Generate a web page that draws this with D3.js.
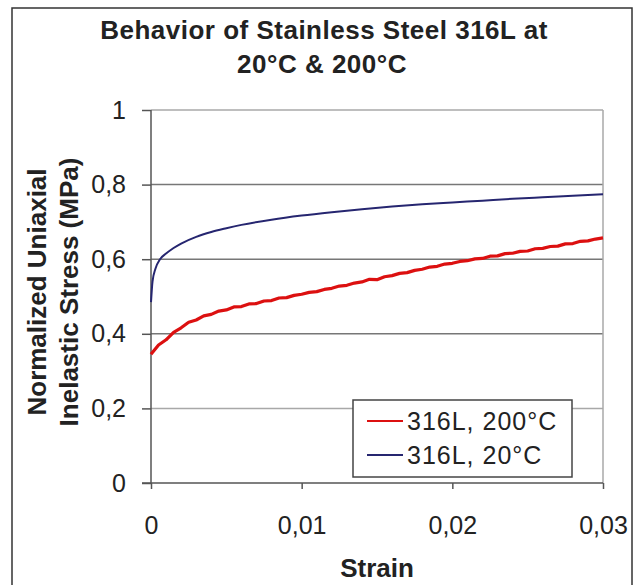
<!DOCTYPE html>
<html>
<head>
<meta charset="utf-8">
<script src="https://cdn.jsdelivr.net/npm/d3@7"></script>
<style>
  body { margin: 0; background: #fff; }
  text { font-family: "Liberation Sans", Arial, sans-serif; fill: #222; }
</style>
</head>
<body>
<script>
// strain / normalized stress
const strain20 = [0, 0.0001, 0.0003, 0.0006, 0.001, 0.0015, 0.002, 0.003, 0.004, 0.005, 0.006,
  0.008, 0.010, 0.012, 0.014, 0.016, 0.018, 0.020, 0.022, 0.024, 0.026, 0.028, 0.030]
const stress20 = [0.485, 0.54, 0.575, 0.600, 0.615, 0.630, 0.642, 0.660, 0.673, 0.683, 0.692,
  0.706, 0.717, 0.726, 0.734, 0.741, 0.747, 0.752, 0.757, 0.762, 0.766, 0.770, 0.774]

const strain200 = [0, 0.0005, 0.001, 0.0015, 0.002, 0.0025, 0.003, 0.0035, 0.004, 0.0045, 0.005,
  0.0055, 0.006, 0.0065, 0.007, 0.0075, 0.008, 0.0085, 0.009, 0.0095, 0.010,
  0.0105, 0.011, 0.0115, 0.012, 0.0125, 0.013, 0.0135, 0.014, 0.0145, 0.015,
  0.0155, 0.016, 0.0165, 0.017, 0.0175, 0.018, 0.0185, 0.019, 0.0195, 0.020,
  0.0205, 0.021, 0.0215, 0.022, 0.0225, 0.023, 0.0235, 0.024, 0.0245, 0.025,
  0.0255, 0.026, 0.0265, 0.027, 0.0275, 0.028, 0.0285, 0.029, 0.0295, 0.030]
const stress200 = [0.345, 0.370, 0.384, 0.404, 0.416, 0.431, 0.437, 0.448, 0.452, 0.461, 0.464,
  0.472, 0.473, 0.480, 0.481, 0.488, 0.489, 0.496, 0.497, 0.503, 0.506,
  0.511, 0.513, 0.519, 0.522, 0.528, 0.530, 0.536, 0.539, 0.546, 0.545,
  0.553, 0.556, 0.562, 0.564, 0.570, 0.573, 0.579, 0.581, 0.587, 0.589,
  0.594, 0.596, 0.601, 0.602, 0.608, 0.609, 0.615, 0.616, 0.621, 0.622,
  0.628, 0.629, 0.634, 0.635, 0.641, 0.642, 0.648, 0.649, 0.654, 0.657]

const xTicks = [0, 0.01, 0.02, 0.03]
const yTicks = [0, 0.2, 0.4, 0.6, 0.8, 1]
const seriesNames = ['316L, 200°C', '316L, 20°C']
const seriesColors = ['#dc1010', '#262670']

const m = { width: 638, height: 585 }
const plot = { left: 151, right: 603, top: 110, bottom: 483 }

const svg = d3.select('body').append('svg')
  .attr('width', m.width)
  .attr('height', m.height)

// outer frame
svg.append('rect')
  .attr('x', 12).attr('y', 8)
  .attr('width', 620).attr('height', 600)
  .attr('fill', 'none')
  .attr('stroke', '#333')
  .attr('stroke-width', 1.5)

const x = d3.scaleLinear().domain([0, 0.03]).range([plot.left, plot.right])
const y = d3.scaleLinear().domain([0, 1]).range([plot.bottom, plot.top])

const fmt = d => d3.format('')(d).replace('.', ',')

// grid lines
svg.append('g').selectAll('line')
  .data(yTicks.slice(1))
  .enter()
  .append('line')
    .attr('x1', plot.left).attr('x2', plot.right)
    .attr('y1', d => y(d)).attr('y2', d => y(d))
    .attr('stroke', d => d === 1 || d === 0.2 ? '#a8a8a8' : '#777')
    .attr('stroke-width', 1.5)

// right border of plot area
svg.append('line')
  .attr('x1', plot.right).attr('x2', plot.right)
  .attr('y1', plot.top).attr('y2', plot.bottom)
  .attr('stroke', '#a8a8a8')
  .attr('stroke-width', 1.5)

const yAxis = svg.append('g')
  .attr('transform', `translate(${plot.left},0)`)
  .call(d3.axisLeft(y).tickValues(yTicks).tickFormat(fmt).tickSize(9).tickPadding(16))
const xAxis = svg.append('g')
  .attr('transform', `translate(0,${plot.bottom})`)
  .call(d3.axisBottom(x).tickValues(xTicks).tickFormat(fmt).tickSize(6).tickPadding(27))

svg.selectAll('.domain').attr('stroke', '#555').attr('stroke-width', 1.5)
svg.selectAll('.tick line').attr('stroke', '#555').attr('stroke-width', 1.5)
svg.selectAll('.tick text').attr('font-size', 25).attr('fill', '#333')
  .style('font-family', '"Liberation Sans", Arial, sans-serif')
// remove the little outer ticks of the domain path
yAxis.select('.domain').attr('d', `M0,${plot.top}V${plot.bottom}`)
xAxis.select('.domain').attr('d', `M${plot.left - 9},0H${plot.right}`)

const line = d3.line().x(d => x(d[0])).y(d => y(d[1]))

svg.append('path')
  .datum(d3.zip(strain200, stress200))
  .attr('d', line)
  .attr('fill', 'none')
  .attr('stroke', seriesColors[0])
  .attr('stroke-width', 3.2)
  .attr('stroke-linejoin', 'round')

svg.append('path')
  .datum(d3.zip(strain20, stress20))
  .attr('d', d3.line().curve(d3.curveMonotoneX).x(d => x(d[0])).y(d => y(d[1])))
  .attr('fill', 'none')
  .attr('stroke', seriesColors[1])
  .attr('stroke-width', 2)

// titles
const title = svg.append('text')
  .attr('text-anchor', 'middle')
  .attr('font-weight', 'bold')
  .attr('font-size', 26)
  .attr('letter-spacing', 0.5)
title.append('tspan').attr('x', 324).attr('y', 39).text('Behavior of Stainless Steel 316L at')
title.append('tspan').attr('x', 322).attr('y', 73).text('20°C & 200°C')

svg.append('text')
  .attr('x', 377).attr('y', 577)
  .attr('text-anchor', 'middle')
  .attr('font-weight', 'bold')
  .attr('font-size', 26)
  .text('Strain')

const yTitle = svg.append('text')
  .attr('transform', 'translate(0,292) rotate(-90)')
  .attr('text-anchor', 'middle')
  .attr('font-weight', 'bold')
  .attr('font-size', 26)
yTitle.append('tspan').attr('x', 0).attr('y', 46).text('Normalized Uniaxial')
yTitle.append('tspan').attr('x', 0).attr('y', 78).text('Inelastic Stress (MPa)')

// legend
const lg = svg.append('g').attr('transform', 'translate(353,400)')
lg.append('rect')
  .attr('width', 219).attr('height', 77)
  .attr('fill', '#fff')
  .attr('stroke', '#444')
  .attr('stroke-width', 1.5)

seriesNames.forEach(function(name, i) {
  const row = lg.append('g').attr('transform', `translate(0,${21 + i * 34})`)
  row.append('line')
    .attr('x1', 14).attr('x2', 50)
    .attr('stroke', seriesColors[i])
    .attr('stroke-width', 2)
  row.append('text')
    .attr('x', 54).attr('y', 9)
    .attr('font-size', 25)
    .attr('letter-spacing', 1)
    .attr('fill', '#333')
    .text(name)
})
</script>
</body>
</html>
